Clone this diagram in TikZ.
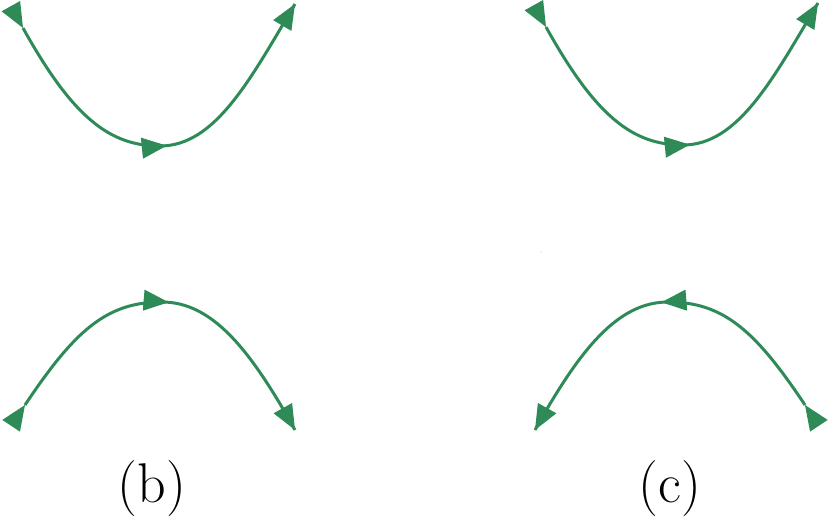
\documentclass[tikz,border=0pt]{standalone}
\usetikzlibrary{decorations.markings}
\definecolor{flowgreen}{RGB}{46,139,87}
\tikzset{
  tri/.style={fill=flowgreen,draw=none},
  flow/.style={draw=flowgreen, line width=1.5pt,
    postaction={decorate},
    decoration={markings,
      mark=at position 0 with {\fill[flowgreen] (0pt,0pt) -- (-12.5pt,5.3pt) -- (-12.5pt,-5.3pt) -- cycle;},
      mark=at position 0.5 with {\fill[flowgreen] (0pt,0pt) -- (-12.5pt,5.3pt) -- (-12.5pt,-5.3pt) -- cycle;},
      mark=at position 0.99999 with {\fill[flowgreen] (0pt,0pt) -- (-12.5pt,5.3pt) -- (-12.5pt,-5.3pt) -- cycle;}}},
  lab/.style={anchor=base, inner sep=0pt, font=\fontsize{28}{34}\selectfont}
}
\begin{document}
\begin{tikzpicture}[x=0.5pt,y=-0.5pt]
\useasboundingbox (0,0) rectangle (830,519);
% (b) top
\coordinate (bts) at (23,28);
\coordinate (btm) at (160,146);
\coordinate (bte) at (295,4);
\draw[flow] (bts) .. controls (73,118) and (110,146) .. (btm) .. controls (215,146) and (250,80) .. (bte);
% (b) bottom
\coordinate (bbs) at (25,405);
\coordinate (bbm) at (162,302);
\coordinate (bbe) at (295,430);
\draw[flow] (bbs) .. controls (75,330) and (107,302) .. (bbm) .. controls (212,302) and (250,349) .. (bbe);
% (c) top
\begin{scope}[shift={(523,-1)}]
\coordinate (cts) at (23,28);
\coordinate (ctm) at (160,146);
\coordinate (cte) at (295,4);
\draw[flow] (cts) .. controls (73,118) and (110,146) .. (ctm) .. controls (215,146) and (250,80) .. (cte);
\end{scope}
% (c) bottom
\coordinate (cbs) at (805,405);
\coordinate (cbm) at (668,302);
\coordinate (cbe) at (535,430);
\draw[flow] (cbs) .. controls (755,330) and (723,302) .. (cbm) .. controls (618,302) and (580,349) .. (cbe);
% labels
\node[lab] (lb) at (151.7,502.7) {(b)};
\node[lab] (lc) at (670,502.7) {(c)};
\fill[gray!50] (541,252) circle (0.7);
\end{tikzpicture}
\end{document}
